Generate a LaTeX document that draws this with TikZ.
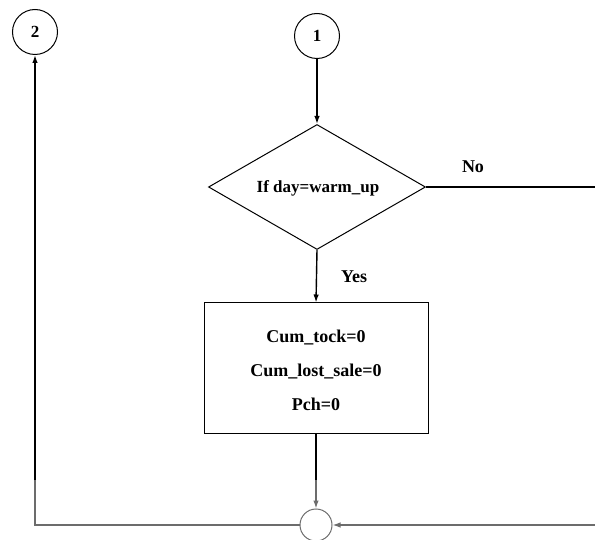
\documentclass[tikz,border=0pt]{standalone}
\usepackage{fontspec}
\setmainfont{Liberation Serif}
\usetikzlibrary{shapes.geometric,arrows.meta}
\begin{document}
\begin{tikzpicture}[x=1pt,y=-1pt,
  conn/.style={line width=1.4pt, draw=black},
  gconn/.style={line width=1.3pt, draw=gray!85!black},
  tip/.style={-{Latex[length=8pt,width=5.5pt]}},
  conncircle/.style={circle, draw, line width=1pt, minimum size=45pt, inner sep=0pt, font=\fontsize{17}{20}\selectfont\bfseries},
  lbl/.style={font=\fontsize{18}{21}\selectfont\bfseries}
]
\useasboundingbox (0,0) rectangle (595,540);
\node[conncircle] (c2) at (35,32) {2};
\node[conncircle] (c1) at (317,36) {1};
\node[diamond, draw, line width=1pt, minimum width=217pt, minimum height=125pt, inner sep=0pt] (dec) at (317,187) {};
\node[font=\fontsize{17}{20}\selectfont\bfseries] (dtext) at (318,188) {If day=warm\_up};
\node[draw, line width=1pt, minimum width=224pt, minimum height=130pt, align=center, font=\fontsize{18}{34}\selectfont\bfseries] (box) at (316,368) {\rule{0pt}{18pt}Cum\_tock=0\\Cum\_lost\_sale=0\\Pch=0};
\node[lbl] (yes) at (354,277) {Yes};
\node[lbl] (no) at (473,167) {No};
\node[circle, draw=gray!85!black, line width=1pt, minimum size=32pt, inner sep=0pt] (join) at (316,525) {};
\coordinate (noend) at (595,187);
\coordinate (rin) at (595,525);
\coordinate (corner) at (35,525);
\coordinate (bmid) at (316,480);
\coordinate (lmid) at (35,480);
\draw[conn,tip] (c1) -- (dec.north);
\draw[conn] (dec.east) -- (noend);
\draw[conn,tip] (dec.south) -- (box.north);
\draw[conn] (box.south) -- (bmid);
\draw[gconn,tip] (bmid) -- (join.north);
\draw[gconn,tip] (rin) -- (join.east);
\draw[gconn] (join.west) -- (corner) -- (lmid);
\draw[conn,tip] (lmid) -- (c2.south);
\end{tikzpicture}
\end{document}
